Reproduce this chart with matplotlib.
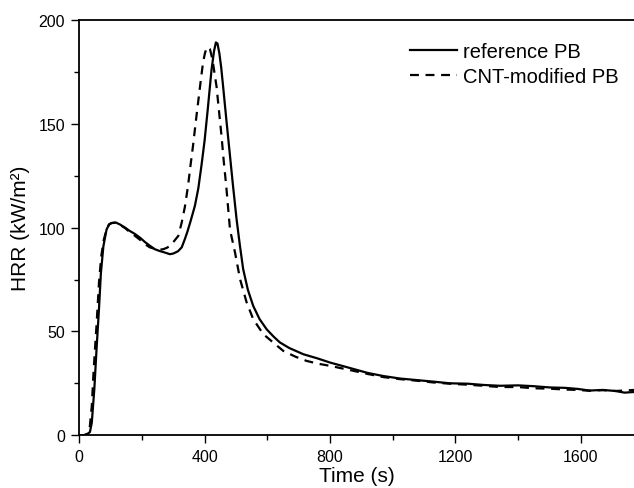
import numpy as np
import matplotlib.pyplot as plt
from matplotlib.ticker import MultipleLocator

plt.rcParams['font.family'] = ['Liberation Sans', 'DejaVu Sans']

# reference PB
t_ref = [0, 15, 25, 34, 40, 48, 55, 63, 69, 77, 87, 95, 103, 116, 130, 146, 160,
         178, 195, 210, 225, 241, 257, 273, 289, 300, 315, 327, 337, 345, 355,
         369, 380, 390, 400, 410, 422, 430, 436, 441, 447, 453, 459, 470, 480,
         490, 502, 512, 523, 538, 555, 575, 598, 620, 640, 670, 715, 760, 800,
         858, 920, 970, 1023, 1080, 1130, 1182, 1240, 1290, 1342, 1400, 1450,
         1501, 1550, 1590, 1628, 1670, 1710, 1740, 1770]
hrr_ref = [0, 0, 0.5, 1.5, 6, 22, 41, 61, 78, 91, 99, 101.5, 102.2, 102.5, 101.5, 100, 98.5,
           96.9, 95, 93, 91.3, 89.6, 88.7, 88, 87.2, 87.5, 88.6, 90.5, 94.5, 98, 103,
           110.5, 119, 130, 142, 157, 176, 185, 189.2, 188.7, 184, 177, 168, 151, 136,
           121, 104, 92, 80, 70, 62.3, 56, 51, 47.5, 44.7, 42, 39, 37, 35,
           32.6, 30, 28.5, 27.3, 26.5, 25.8, 25, 24.8, 24.2, 23.8, 24, 23.6,
           23, 22.8, 22.3, 21.5, 21.8, 21.3, 20.5, 20.8]

# CNT-modified PB
t_cnt = [0, 15, 25, 30, 34, 40, 45, 50, 55, 63, 70, 78, 87, 95, 103, 116, 130, 146,
         160, 178, 195, 210, 225, 241, 255, 268, 280, 289, 300, 316, 327, 337, 347,
         355, 363, 371, 379, 387, 395, 401, 406, 411, 417, 425, 431, 438, 446, 454,
         461, 469, 481, 497, 513, 534, 555, 587, 620, 651, 690, 725, 760, 800,
         860, 920, 970, 1023, 1080, 1130, 1182, 1240, 1290, 1342, 1400, 1450,
         1501, 1550, 1590, 1628, 1670, 1710, 1740, 1770]
hrr_cnt = [0, 0, 0.5, 1.5, 4.5, 14, 28.6, 41, 52.7, 73.6, 86, 94, 99, 101.5, 102.2, 102.3,
           101.3, 99.8, 98, 96, 94, 92, 90.5, 89.8, 89.3, 89.6, 90.3, 91.2, 93, 96, 102.5,
           110, 120, 130, 139.4, 150, 160, 170, 179.6, 184, 186.4, 187, 186, 181, 175,
           168, 156, 144, 132, 120, 99, 88, 75.2, 64, 55.9, 48.7, 44.5, 40.6, 37.8,
           35.8, 34.5, 33.4, 31.5, 29.5, 28, 27, 26.2, 25.4, 24.8, 24.3, 23.8, 23.2,
           23.2, 22.6, 22.4, 22, 21.8, 21.4, 21.7, 21.3, 21.5, 21.8]

fig = plt.figure(figsize=(6.34, 4.89), dpi=100)
ax = fig.add_axes([0.125, 0.108, 0.875, 0.849])

ax.plot(t_ref, hrr_ref, color='black', lw=1.6, label='reference PB')
ax.plot(t_cnt, hrr_cnt, color='black', lw=1.6, dashes=(4, 3), label='CNT-modified PB')

ax.set_xlim(0, 1770)
ax.set_ylim(0, 200)
ax.xaxis.set_major_locator(MultipleLocator(400))
ax.xaxis.set_minor_locator(MultipleLocator(200))
ax.yaxis.set_major_locator(MultipleLocator(50))
ax.yaxis.set_minor_locator(MultipleLocator(25))
ax.tick_params(which='major', direction='out', length=5.8, width=1.0, pad=4.5, labelsize=11.5)
ax.tick_params(which='minor', direction='out', length=3.6, width=1.0)
ax.spines['right'].set_visible(False)
for s in ['left', 'bottom', 'top']:
    ax.spines[s].set_linewidth(1.3)

ax.set_xlabel('Time (s)', fontsize=15, labelpad=1)
ax.set_ylabel('HRR (kW/m²)', fontsize=15, labelpad=6)

ax.legend(loc='upper left', bbox_to_anchor=(0.578, 0.972), frameon=False, fontsize=14.5,
          handlelength=2.35, handletextpad=0.28, labelspacing=0.3, borderpad=0)

fig.savefig('out.png', dpi=100)
